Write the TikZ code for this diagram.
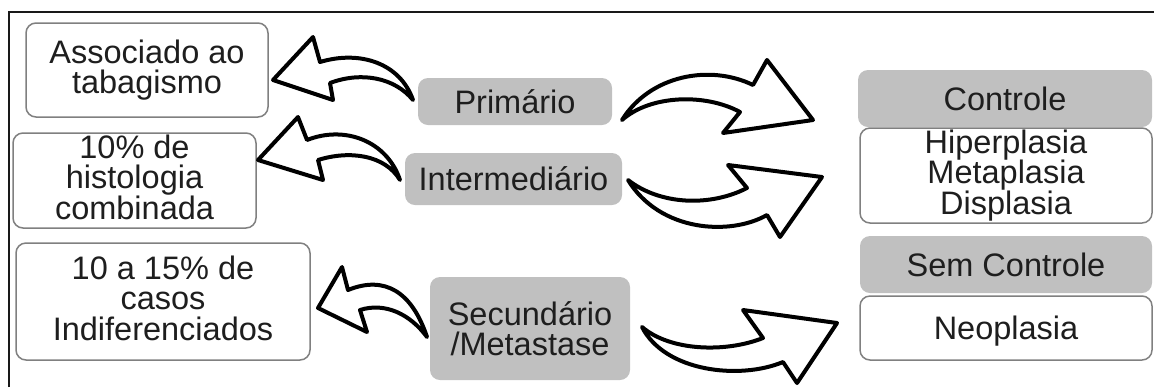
\documentclass[tikz,border=0pt]{standalone}
\usepackage{fontspec}
\setmainfont{Liberation Sans}
\definecolor{txtc}{RGB}{30,30,30}
\definecolor{grayfill}{RGB}{192,192,192}
\definecolor{boxline}{RGB}{128,128,128}
\definecolor{framec}{RGB}{25,25,25}
\begin{document}
\begin{tikzpicture}[x=0.5pt,y=-0.5pt,
  txt/.style={text=txtc, font=\fontsize{16.25pt}{15.25pt}\selectfont, align=center, inner sep=0pt},
  onel/.style={text height=11.8pt, text depth=0pt},
  wbox/.style={txt, draw=boxline, line width=0.75pt, fill=white, rounded corners=5pt},
  gbox/.style={txt, fill=grayfill, rounded corners=5pt},
  blockarrow/.style={draw=black, fill=white, line width=2pt, line join=round}]
\useasboundingbox (0,0) rectangle (1154,387);
% frame
\draw[framec, line width=1pt] (9,387) -- (9,12) -- (1154,12);
% left boxes
\node[wbox, minimum width=121pt, minimum height=47pt] (assoc) at (147,70) {Associado ao\\tabagismo};
\node[wbox, minimum width=121.5pt, minimum height=47.5pt] (hist) at (134.5,180.5) {10\% de\\histologia\\combinada\vphantom{g}};
\node[wbox, minimum width=147pt, minimum height=58.5pt] (indif) at (163,301.5) {10 a 15\% de\\casos\\Indiferenciados\vphantom{g}};
% middle boxes
\node[gbox, onel, minimum width=97pt, minimum height=23.5pt] (prim) at (515,101.5) {Primário};
\node[gbox, onel, minimum width=108.5pt, minimum height=26pt] (inter) at (513.5,179) {Intermediário};
\node[gbox, minimum width=100pt, minimum height=51.5pt] (secund) at (530,328.5) {Secundário\\/Metastase};
% right boxes
\node[gbox, onel, minimum width=147pt, minimum height=28.5pt] (contr) at (1005,98.5) {Controle};
\node[wbox, minimum width=146pt, minimum height=47.5pt] (hiper) at (1006,175.5) {Hiperplasia\\Metaplasia\\Displasia};
\node[gbox, onel, minimum width=146pt, minimum height=28.5pt] (semc) at (1006,264.5) {Sem Controle};
\node[wbox, onel, minimum width=146pt, minimum height=32pt] (neo) at (1006,328) {Neoplasia};
% left block arrows
\draw[blockarrow] (413,100) .. controls (400,63) and (360,50) .. (320,62)
  -- (313,37) -- (273,80) -- (333,100) -- (330,83)
  .. controls (362,71) and (395,78) .. cycle;
\draw[blockarrow] (400,180) .. controls (387,141) and (345,125) .. (307,140)
  -- (298,117) -- (258,160) -- (323,180) -- (318,160)
  .. controls (350,150) and (385,155) .. cycle;
\draw[blockarrow] (427,337) .. controls (412,292) and (385,275) .. (348,290)
  -- (342,267) -- (318,308) -- (367,332) -- (360,310)
  .. controls (385,302) and (410,314) .. cycle;
% right block arrows
\draw[blockarrow] (622,120) .. controls (650,75) and (710,64) .. (753,85)
  -- (767,60) -- (813,120) -- (723,133) -- (740,112)
  .. controls (705,93) and (650,95) .. cycle;
\draw[blockarrow] (628,180) .. controls (660,205) and (710,207) .. (747,188)
  -- (728,165) -- (822,177) -- (780,237) -- (767,215)
  .. controls (730,236) and (660,232) .. cycle;
\draw[blockarrow] (642,327) .. controls (670,351) and (725,353) .. (763,338)
  -- (743,310) -- (837,323) -- (797,383) -- (783,362)
  .. controls (740,380) and (665,372) .. cycle;
\end{tikzpicture}
\end{document}
